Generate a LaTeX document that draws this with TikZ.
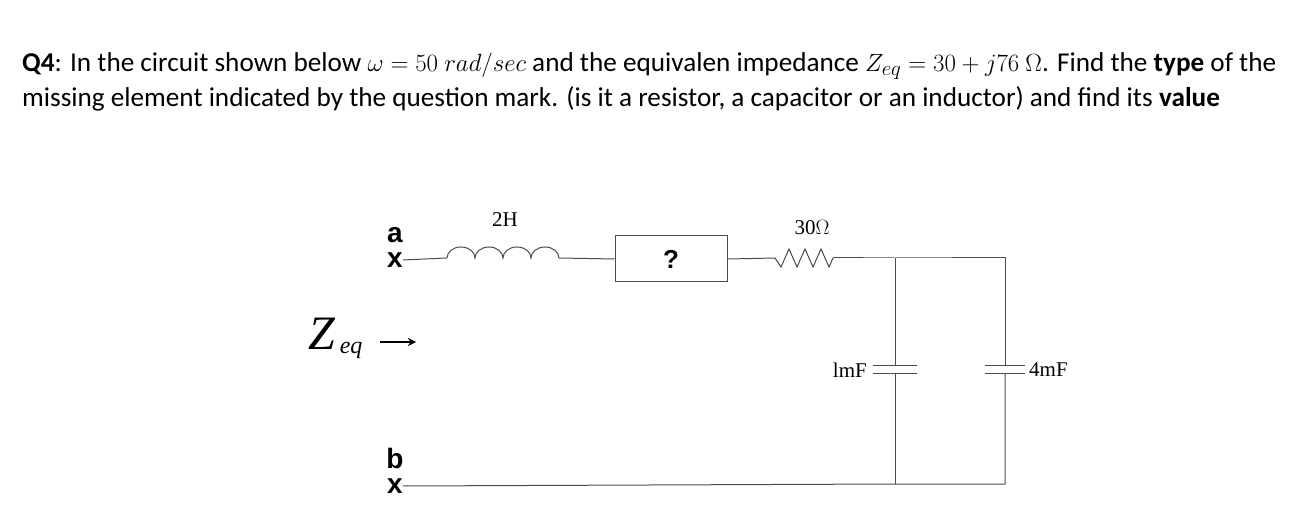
\documentclass[tikz,border=0pt]{standalone}
\usepackage{fontspec}
\setmainfont{Carlito}
\newfontfamily\circfont{Liberation Serif}
\newfontfamily\termfont{Liberation Sans}
\usetikzlibrary{positioning}
\tikzset{
    wire/.style = {draw=black!70, line width=1pt},
    qtext/.style = {anchor=base west, inner sep=0pt, font=\fontsize{27.2}{30}\selectfont},
    term/.style = {inner sep=0pt, font=\termfont\bfseries\fontsize{28}{28}\selectfont},
    val/.style = {inner sep=1pt, font=\circfont\fontsize{21}{22}\selectfont},
    box/.style = {rectangle, draw=black!70, line width=1pt, minimum width=112pt, minimum height=46pt,
        inner sep=0pt, font=\termfont\bfseries\fontsize{26}{26}\selectfont}
}
\begin{document}
\begin{tikzpicture}[x=1pt, y=1pt]
    \useasboundingbox (0,0) rectangle (1313,522);
    % Question text
    \node [qtext] (q1) at (22,450) {\textbf{Q4}: In the circuit shown below $\omega = 50\ rad/sec$ and the equivalen impedance $Z_{eq} = 30 + j76\ \Omega$. Find the \textbf{type} of the};
    \node [qtext] (q2) at (22,415) {missing element indicated by the question mark. (is it a resistor, a capacitor or an inductor) and find its \textbf{value}};
    % Terminals
    \node [term] (ta) at (395,262) {x};
    \node [term, above=9pt of ta] (la) {a};
    \node [term] (tb) at (395,36) {x};
    \node [term, above=9pt of tb] (lb) {b};
    \node [font=\circfont\itshape\fontsize{48}{48}\selectfont, inner sep=0pt] (z) at (322,188) {Z};
    \node [font=\circfont\itshape\fontsize{24}{24}\selectfont, inner sep=0pt, anchor=north west] (zsub) at ([xshift=4pt, yshift=8pt]z.south east) {eq};
    \coordinate (zs) at (380,180);
    \coordinate (ze) at (416,180);
    \draw [line width=2.6pt, -stealth] (zs) -- (ze);
    % Components
    \coordinate (l1) at (447,264);
    \coordinate (l2) at (559,264);
    \node [box] (miss) at (671,263) {?};
    \coordinate (r1) at (775,264);
    \coordinate (r2) at (833,264);
    \coordinate (j1) at (895,264);
    \coordinate (j2) at (1005,264);
    \coordinate (g1) at (895,38);
    \coordinate (g2) at (1005,38);
    \coordinate (c1t) at (895,156);
    \coordinate (c1b) at (895,148);
    \coordinate (c2t) at (1005,156);
    \coordinate (c2b) at (1005,148);
    \node [val] (lbl2h) at (505,302) {2H};
    \node [val] (lbl30) at (812,294) {30$\Omega$};
    \node [val, anchor=east] (lbl1) at (868,152) {lmF};
    \node [val, anchor=west] (lbl4) at (1028,152) {4mF};
    % Wiring
    \path [wire] (ta.east) -- (l1);
    \path [wire] (l1) \foreach \i in {0,...,3} { arc[start angle=180, end angle=0, x radius=14, y radius=11] };
    \path [wire] (l2) -- (miss.west);
    \path [wire] (miss.east) -- (r1);
    \path [wire] (r1) -- ++(6,-9) -- ++(8,18) -- ++(8,-18) -- ++(8,18) -- ++(8,-18) -- ++(8,18) -- ++(8,-18) -- (r2);
    \path [wire] (r2) -- (j1) -- (j2) -- (c2t);
    \path [wire] (j1) -- (c1t);
    \path [wire] (c1b) -- (g1);
    \path [wire] (c2b) -- (g2) -- (g1) -- (tb.east);
    \path [wire] ([xshift=-22]c1t) -- ([xshift=22]c1t);
    \path [wire] ([xshift=-22]c1b) -- ([xshift=22]c1b);
    \path [wire] ([xshift=-20]c2t) -- ([xshift=20]c2t);
    \path [wire] ([xshift=-20]c2b) -- ([xshift=20]c2b);
\end{tikzpicture}
\end{document}
